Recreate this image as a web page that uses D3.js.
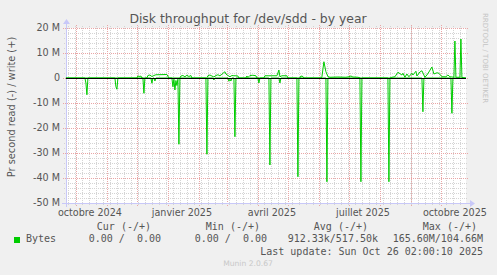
<!DOCTYPE html>
<html>
<head>
<meta charset="utf-8">
<script src="https://cdn.jsdelivr.net/npm/d3@7"></script>
<style>
  html, body { margin: 0; padding: 0; background: #f0f0f0; }
  svg { display: block; }
  text { font-family: 'DejaVu Sans', sans-serif; fill: #555; }
  .mono { font-family: 'DejaVu Sans Mono', monospace; white-space: pre; }
</style>
</head>
<body>
<div id="chart"></div>
<script>
// read values (bytes/s, in M), drawn below zero
const readDates = [
  '2024-09-21', '2024-10-10', '2024-10-11', '2024-10-12', '2024-10-13',
  '2024-11-09', '2024-11-10', '2024-11-11', '2024-11-12',
  '2024-12-07', '2024-12-08', '2024-12-09', '2024-12-15', '2024-12-16', '2024-12-17',
  '2024-12-18', '2024-12-19', '2024-12-20',
  '2025-01-05', '2025-01-06', '2025-01-07', '2025-01-08', '2025-01-09', '2025-01-10',
  '2025-01-11', '2025-01-12', '2025-01-13',
  '2025-02-08', '2025-02-09', '2025-02-10', '2025-02-15', '2025-02-16', '2025-02-17',
  '2025-03-02', '2025-03-03', '2025-03-04', '2025-03-05', '2025-03-06',
  '2025-03-08', '2025-03-09', '2025-03-10',
  '2025-04-01', '2025-04-02', '2025-04-03', '2025-04-12', '2025-04-13', '2025-04-14',
  '2025-04-22', '2025-04-23', '2025-04-24',
  '2025-05-10', '2025-05-11', '2025-05-12',
  '2025-06-08', '2025-06-09', '2025-06-10',
  '2025-07-12', '2025-07-13', '2025-07-14',
  '2025-08-09', '2025-08-10', '2025-08-11',
  '2025-09-12', '2025-09-13', '2025-09-14',
  '2025-10-11', '2025-10-12', '2025-10-13', '2025-10-26'
];
const readValues = [
  0, 0, 2.0, 6.7, 0,
  0, 3.5, 4.5, 0,
  0, 6.1, 0, 0, 2.1, 0,
  0, 1.2, 0,
  0, 3.5, 0.5, 4.8, 1.0, 3.0,
  0.5, 26.5, 0,
  0, 30.5, 0, 0, 0.8, 0,
  0, 1.3, 0.5, 1.2, 0,
  0, 23.5, 0,
  0, 2.0, 0, 0, 34.8, 0,
  0, 2.0, 0,
  0, 39.5, 0,
  0, 41.5, 0,
  0, 41.5, 0,
  0, 41.5, 0,
  0, 13.5, 0,
  0, 14.1, 0, 0
];

// write values (bytes/s, in M), drawn above zero
const writeDates = [
  '2024-09-21', '2024-12-01', '2024-12-02', '2024-12-04', '2024-12-05', '2024-12-06',
  '2024-12-11', '2024-12-12', '2024-12-14', '2024-12-16', '2024-12-18', '2024-12-20',
  '2024-12-31', '2025-01-02',
  '2025-01-13', '2025-01-14', '2025-01-16', '2025-01-18', '2025-01-20', '2025-01-22',
  '2025-01-24', '2025-01-25',
  '2025-02-09', '2025-02-10', '2025-02-12', '2025-02-14', '2025-02-16', '2025-02-18',
  '2025-02-20', '2025-02-22', '2025-02-24', '2025-02-26', '2025-02-27', '2025-02-28',
  '2025-03-02', '2025-03-04', '2025-03-06', '2025-03-08', '2025-03-10', '2025-03-12',
  '2025-03-13',
  '2025-03-20', '2025-03-21', '2025-03-22', '2025-03-24', '2025-03-27', '2025-03-30',
  '2025-03-31',
  '2025-04-07', '2025-04-08', '2025-04-12', '2025-04-15', '2025-04-20', '2025-04-22',
  '2025-04-23', '2025-04-25', '2025-04-30', '2025-05-01',
  '2025-05-13', '2025-05-14', '2025-05-16', '2025-05-17',
  '2025-06-03', '2025-06-04', '2025-06-06', '2025-06-08', '2025-06-10', '2025-06-12',
  '2025-06-20', '2025-06-28', '2025-07-01', '2025-07-03', '2025-07-05', '2025-07-10',
  '2025-07-13',
  '2025-08-11', '2025-08-13', '2025-08-16', '2025-08-19', '2025-08-23', '2025-08-24',
  '2025-08-26', '2025-08-28', '2025-08-30', '2025-09-02', '2025-09-03', '2025-09-06',
  '2025-09-07', '2025-09-10', '2025-09-12', '2025-09-15', '2025-09-17', '2025-09-19',
  '2025-09-22', '2025-09-24', '2025-09-27', '2025-09-29', '2025-10-02', '2025-10-06',
  '2025-10-08', '2025-10-10', '2025-10-14', '2025-10-15', '2025-10-16', '2025-10-20',
  '2025-10-21', '2025-10-22', '2025-10-26'
];
const writeValues = [
  0, 0, 0.8, 0.6, 0.8, 0,
  0, 1.0, 1.2, 0.6, 1.0, 1.3,
  1.4, 0,
  0, 0.8, 1.0, 0.5, 1.1, 0.6,
  1.0, 0,
  0, 0.9, 1.2, 0.8, 0.4, 1.0,
  1.3, 0.9, 1.5, 2.2, 2.5, 1.6,
  1.0, 0.5, 1.0, 0.9, 0.9, 0.8,
  0,
  0, 0.8, 0.2, 1.0, 1.1, 0.9,
  0,
  0, 0.9, 0.9, 0.9, 0.9, 3.2,
  0.5, 0.9, 0.9, 0,
  0, 0.8, 0.6, 0,
  0, 0.5, 6.5, 2.5, 0.6, 0.3,
  0.4, 0.3, 0.5, 0.8, 0.4, 0.3,
  0,
  0, 0.3, 0.5, 2.3, 1.2, 1.9,
  0.3, 1.6, 0.5, 1.9, 1.2, 2.7,
  0.8, 2.4, 2.9, 0.3, 1.2, 2.4,
  4.4, 1.6, 2.1, 1.9, 0.5, 0.5,
  1.2, 0.5, 0.3, 14.8, 0.3, 0.3,
  15.6, 0.2, 0
];

const yTicks = [20, 10, 0, -10, -20, -30, -40, -50];
const yTickLabels = ['20 M', '10 M', '0', '-10 M', '-20 M', '-30 M', '-40 M', '-50 M'];
const xLabelDates = ['2024-10-15', '2025-01-15', '2025-04-15', '2025-07-15', '2025-10-15'];
const xLabels = ['octobre 2024', 'janvier 2025', 'avril 2025', 'juillet 2025', 'octobre 2025'];

const legendHeaders = ['Cur (-/+)', 'Min (-/+)', 'Avg (-/+)', 'Max (-/+)'];
const legendValues = ['0.00 /  0.00', '0.00 /  0.00', '912.33k/517.50k', '165.60M/104.66M'];
const legendName = 'Bytes';
const lastUpdate = 'Last update: Sun Oct 26 02:00:10 2025';

const width = 497, height = 275;
const plotLeft = 66, plotRight = 466, plotTop = 28, plotBottom = 203;
const green = '#00cc00';

const parse = d3.timeParse('%Y-%m-%d');
const start = new Date(2024, 8, 21, 2, 0, 10);
const end = new Date(2025, 9, 26, 2, 0, 10);

const x = d3.scaleTime().domain([start, end]).range([plotLeft, plotRight]);
const y = d3.scaleLinear().domain([-50, 20]).range([plotBottom, plotTop]);

const svg = d3.select('#chart').append('svg')
  .attr('width', width).attr('height', height);

svg.append('rect').attr('width', width).attr('height', height).attr('fill', '#f0f0f0');
svg.append('rect')
  .attr('x', plotLeft).attr('y', plotTop)
  .attr('width', plotRight - plotLeft).attr('height', plotBottom - plotTop)
  .attr('fill', '#ffffff');

// minor grid
const grid = svg.append('g').attr('shape-rendering', 'crispEdges');
grid.selectAll('.hmin')
  .data(d3.range(-50, 21, 2).filter(v => v % 10 !== 0))
  .enter().append('line')
  .attr('x1', plotLeft - 2).attr('x2', plotRight + 2)
  .attr('y1', d => Math.round(y(d)) + 0.5).attr('y2', d => Math.round(y(d)) + 0.5)
  .attr('stroke', '#d4d4d4').attr('stroke-dasharray', '1,1');
grid.selectAll('.vmin')
  .data(d3.timeMonday.range(start, end))
  .enter().append('line')
  .attr('y1', plotTop - 2).attr('y2', plotBottom + 2)
  .attr('x1', d => Math.round(x(d)) + 0.5).attr('x2', d => Math.round(x(d)) + 0.5)
  .attr('stroke', '#d4d4d4').attr('stroke-dasharray', '1,1');

// major grid
grid.selectAll('.hmaj')
  .data(yTicks)
  .enter().append('line')
  .attr('x1', plotLeft - 3).attr('x2', plotRight + 3)
  .attr('y1', d => Math.round(y(d)) + 0.5).attr('y2', d => Math.round(y(d)) + 0.5)
  .attr('stroke', '#eaa6a6').attr('stroke-dasharray', '1,1');
grid.selectAll('.vmaj')
  .data(d3.timeMonth.range(start, end))
  .enter().append('line')
  .attr('y1', plotTop - 3).attr('y2', plotBottom + 3)
  .attr('x1', d => Math.round(x(d)) + 0.5).attr('x2', d => Math.round(x(d)) + 0.5)
  .attr('stroke', '#eaa6a6').attr('stroke-dasharray', '1,1');

// axes with arrows
const axisColor = '#c8c8f8';
grid.append('line')
  .attr('x1', plotLeft - 4).attr('x2', plotRight + 4)
  .attr('y1', plotBottom + 0.5).attr('y2', plotBottom + 0.5)
  .attr('stroke', axisColor);
grid.append('line')
  .attr('x1', plotLeft + 0.5).attr('x2', plotLeft + 0.5)
  .attr('y1', plotBottom + 4).attr('y2', plotTop - 4)
  .attr('stroke', axisColor);
svg.append('path')
  .attr('d', `M${plotRight + 4},${plotBottom - 3}L${plotRight + 9},${plotBottom + 0.5}L${plotRight + 4},${plotBottom + 4}Z`)
  .attr('fill', axisColor);
svg.append('path')
  .attr('d', `M${plotLeft - 3},${plotTop - 4}L${plotLeft + 0.5},${plotTop - 9}L${plotLeft + 4},${plotTop - 4}Z`)
  .attr('fill', axisColor);

// data lines
const readData = readDates.map((d, i) => ({ date: parse(d), value: -readValues[i] }));
const writeData = writeDates.map((d, i) => ({ date: parse(d), value: writeValues[i] }));
const line = d3.line().x(d => x(d.date)).y(d => y(d.value));

svg.append('path').datum(readData)
  .attr('d', line).attr('fill', 'none').attr('stroke', green).attr('stroke-width', 1);
svg.append('path').datum(writeData)
  .attr('d', line).attr('fill', 'none').attr('stroke', green).attr('stroke-width', 1);

// zero rule
svg.append('line')
  .attr('x1', plotLeft).attr('x2', plotRight)
  .attr('y1', Math.round(y(0)) + 0.5).attr('y2', Math.round(y(0)) + 0.5)
  .attr('stroke', '#000').attr('shape-rendering', 'crispEdges');

// y labels
svg.selectAll('.ylab')
  .data(yTicks)
  .enter().append('text')
  .attr('x', 60).attr('y', d => y(d))
  .attr('dy', '0.36em')
  .attr('text-anchor', 'end')
  .attr('font-size', '9.6px')
  .text((d, i) => yTickLabels[i]);

// x labels
svg.selectAll('.xlab')
  .data(xLabelDates)
  .enter().append('text')
  .attr('x', d => x(parse(d)))
  .attr('y', 216)
  .attr('text-anchor', 'middle')
  .attr('font-size', '9.6px')
  .text((d, i) => xLabels[i]);

// title
svg.append('text')
  .attr('x', 248).attr('y', 23)
  .attr('text-anchor', 'middle')
  .attr('font-size', '12.4px')
  .text('Disk throughput for /dev/sdd - by year');

// vertical axis title
svg.append('text')
  .attr('transform', 'translate(15,107) rotate(-90)')
  .attr('text-anchor', 'middle')
  .attr('font-size', '9.8px')
  .text('Pr second read (-) / write (+)');

// rrdtool credit
svg.append('text')
  .attr('transform', 'translate(483,13) rotate(90)')
  .attr('font-size', '7px')
  .style('fill', '#c4c4c4')
  .text('RRDTOOL / TOBI OETIKER');

// legend
const headerRight = [151, 260, 368, 477];
const valueRight = [161, 267, 378, 483];
svg.selectAll('.lh')
  .data(legendHeaders)
  .enter().append('text')
  .attr('class', 'mono')
  .attr('x', (d, i) => headerRight[i]).attr('y', 230)
  .attr('text-anchor', 'end')
  .attr('font-size', '10px')
  .text(d => d);
svg.selectAll('.lv')
  .data(legendValues)
  .enter().append('text')
  .attr('class', 'mono')
  .attr('x', (d, i) => valueRight[i]).attr('y', 242)
  .attr('text-anchor', 'end')
  .attr('font-size', '10px')
  .text(d => d);
svg.append('rect')
  .attr('x', 14).attr('y', 237).attr('width', 6).attr('height', 6)
  .attr('fill', green);
svg.append('text')
  .attr('class', 'mono')
  .attr('x', 26).attr('y', 242)
  .attr('font-size', '10px')
  .text(legendName);
svg.append('text')
  .attr('class', 'mono')
  .attr('x', 483).attr('y', 254.5)
  .attr('text-anchor', 'end')
  .attr('font-size', '10px')
  .text(lastUpdate);
svg.append('text')
  .attr('x', 248).attr('y', 266)
  .attr('text-anchor', 'middle')
  .attr('font-size', '7.6px')
  .style('fill', '#c8c8c8')
  .text('Munin 2.0.67');
</script>
</body>
</html>
